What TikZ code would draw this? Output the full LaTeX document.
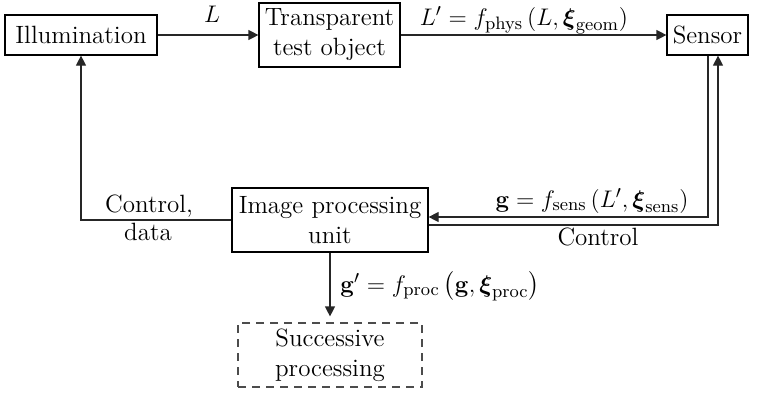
\documentclass[tikz,border=0pt]{standalone}
\usepackage{amsmath}
\usetikzlibrary{arrows.meta}
\begin{document}
\begin{tikzpicture}[x=0.5pt,y=-0.5pt,
  font=\fontsize{12.5}{15}\selectfont,
  box/.style={draw, line width=0.6pt, align=center, inner sep=0pt, minimum height=20pt},
  tallbox/.style={box, minimum height=32pt},
  dashbox/.style={tallbox, draw=black!70, dash pattern=on 4pt off 3pt},
  arr/.style={draw=black!85, line width=0.6pt, -{Triangle[length=5pt,width=5pt]}},
  lbl/.style={inner sep=0pt, anchor=base}]
\useasboundingbox (0,0) rectangle (758,393);

% blocks
\node[box, minimum width=76pt] (illum) at (81,35) {Illumination};
\node[tallbox, minimum width=70.5pt] (trans) at (329.5,35) {Transparent\\test object};
\node[box, minimum width=40.5pt] (sensor) at (707.5,35) {Sensor};
\node[tallbox, minimum width=98pt] (ipu) at (330,220) {Image processing\\unit};
\node[dashbox, minimum width=92pt] (succ) at (330,355) {Successive\\processing};

% bends of the sensor feedback lines
\coordinate (s1) at (708,217);
\coordinate (s2) at (718,225);

% signal flow
\draw[arr] (illum) -- (trans);
\draw[arr] (trans) -- (sensor);
\draw[arr] (sensor.south -| s1) |- (ipu.east |- s1);
\draw[arr] (ipu.east |- s2) -| (sensor.south -| s2);
\draw[arr] (ipu.west) -| (illum.south);
\draw[arr, shorten >=3pt] (ipu.south) -- (succ.north);

% labels
\node[lbl] (lL) at (212,22) {$L$};
\node[lbl] (lLp) at (524,25) {$L' = f_{\mathrm{phys}}\,(L, \boldsymbol{\xi}_{\mathrm{geom}})$};
\node[lbl] (lg) at (592,207) {$\mathbf{g} = f_{\mathrm{sens}}\left(L', \boldsymbol{\xi}_{\mathrm{sens}}\right)$};
\node[lbl] (lctl) at (598,245) {Control};
\node[lbl] (lc1) at (149,212) {Control,};
\node[lbl] (lc2) at (148,240) {data};
\node[lbl] (lgp) at (440,292) {$\mathbf{g}' = f_{\mathrm{proc}}\left(\mathbf{g}, \boldsymbol{\xi}_{\mathrm{proc}}\right)$};
\end{tikzpicture}
\end{document}
